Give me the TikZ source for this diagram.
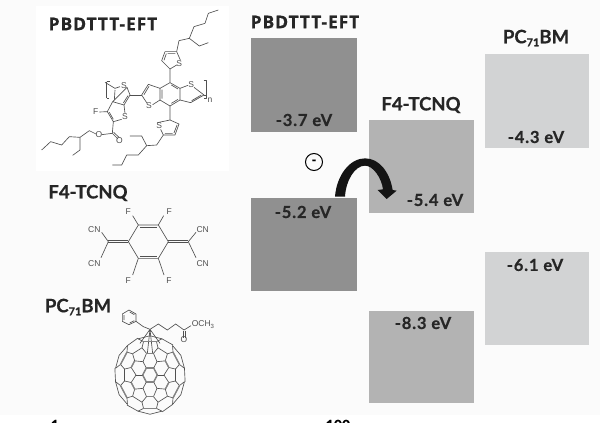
\documentclass[tikz,border=0pt]{standalone}
\usepackage{fontspec}
\setmainfont[FakeBold=0.6]{Lato}
\newfontfamily\widebold[LetterSpace=5,FakeBold=0.4]{Open Sans}
\newfontfamily\valfont[LetterSpace=5,FakeBold=0.6]{Lato}
\newfontfamily\chemfont{Liberation Sans}
\definecolor{bgc}{HTML}{FBFBFB}
\definecolor{darkbox}{HTML}{909090}
\definecolor{midbox}{HTML}{B3B3B3}
\definecolor{lightbox}{HTML}{D2D3D4}
\definecolor{inkc}{HTML}{262626}
\definecolor{bondc}{HTML}{505050}
\tikzset{
  titlelab/.style={font=\widebold\bfseries\fontsize{17.5}{17.5}\selectfont,text=inkc,inner sep=0pt},
  namelab/.style={font=\bfseries\fontsize{18.5}{18.5}\selectfont,text=inkc,inner sep=0pt},
  vallab/.style={font=\valfont\bfseries\fontsize{16.5}{16.5}\selectfont,text=inkc,inner sep=0pt},
  atomlab/.style={font=\chemfont\fontsize{8.5}{8.5}\selectfont,text=bondc,inner sep=0.6pt},
  bond/.style={draw=bondc,line width=0.65pt,line join=round},
  hbond/.style={draw=bondc!70,line width=1.4pt,line cap=round},
  zoomA/.style={x=0.33333pt,y=-0.33333pt},
}
\begin{document}
\begin{tikzpicture}[x=1pt,y=-1pt]
\useasboundingbox (0,0) rectangle (600,423);
\clip (0,0) rectangle (600,423);
\fill[bgc] (0,0) rectangle (600,423);
\fill[white] (36,6) rectangle (229,171);
\fill[white] (0,415) rectangle (600,423);

% bands
\fill[darkbox] (251,38) rectangle (357,132);
\fill[darkbox] (251,198) rectangle (357,291);
\fill[midbox] (369,120) rectangle (474,213);
\fill[midbox] (369,311) rectangle (474,403);
\fill[lightbox] (485,54) rectangle (589,148);
\fill[lightbox] (485,252) rectangle (589,345);

% titles
\node[titlelab] (t1) at (103,24) {PBDTTT-EFT};
\node[titlelab] (t2) at (305,22) {PBDTTT-EFT};
\node[namelab] (t3) at (88,193) {F4-TCNQ};
\node[namelab] (t4) at (421,105) {F4-TCNQ};
\node[namelab] (t5) at (78,307) {PC\raisebox{-3pt}{\fontsize{11}{11}\selectfont 71}BM};
\node[namelab] (t6) at (536,38) {PC\raisebox{-3pt}{\fontsize{11}{11}\selectfont 71}BM};

% values
\node[vallab] (v1) at (304,120) {-3.7 eV};
\node[vallab] (v2) at (303,212) {-5.2 eV};
\node[vallab] (v3) at (435,200) {-5.4 eV};
\node[vallab] (v4) at (536,137) {-4.3 eV};
\node[vallab] (v5) at (535,265) {-6.1 eV};
\node[vallab] (v6) at (423,323) {-8.3 eV};

% minus
\node[draw=black,circle,line width=1pt,minimum size=17pt,inner sep=0pt,font=\bfseries\fontsize{13}{13}\selectfont] (minus) at (314,162) {-};

% curved arrow
\begin{scope}[shift={(240,100)},zoomA]
\fill[black!92] (285,290)
  .. controls (290,225) and (330,175) .. (375,175)
  .. controls (420,175) and (450,220) .. (458,270)
  -- (470,272) -- (440,297) -- (413,270) -- (429,268)
  .. controls (425,235) and (400,197) .. (375,197)
  .. controls (345,197) and (318,240) .. (315,290) -- cycle;
\end{scope}

% PBDTTT-EFT molecule
\begin{scope}[zoomA]
\path[bond] (510,248) -- (540,265) -- (540,300) -- (510,318) -- (480,300) -- (480,265) -- cycle;
\path[bond] (514,255) -- (534,267) (534,298) -- (514,310) (486,296) -- (486,269);
\path[bond] (540,265) -- (564,256) (582,262) -- (612,285) -- (572,308) -- (540,300) (575,302) -- (604,285);
\path[bond] (480,265) -- (445,253) -- (425,285) -- (440,308) (458,314) -- (480,300) (447,259) -- (432,284);
\path[bond] (425,285) -- (390,285);
\path[bond] (345,265) -- (360,260) (381,262) -- (390,285) -- (372,315) -- (338,305) -- cycle;
\path[bond] (384,287) -- (370,309) (345,270) -- (343,300);
\path[bond] (372,315) -- (375,340) (365,358) -- (340,365) -- (322,335) -- (338,305);
\path[bond] (340,358) -- (328,337);
\path[bond] (322,335) -- (298,336);
\path[bond] (340,365) -- (337,400) -- (305,404) (337,400) -- (354,417) (341,397) -- (358,413);
\path[bond] (288,402) -- (268,392) -- (240,412) -- (208,410) -- (185,435) -- (152,425) -- (125,450);
\path[bond] (240,412) -- (240,450) -- (218,466);
\path[bond] (320,245) -- (320,295) (320,245) -- (330,245) (320,295) -- (328,295);
\path[bond] (345,265) -- (315,247);
\path[bond] (612,285) -- (622,285) (611,240) -- (620,240) -- (620,295) -- (611,295);
\path[bond] (510,248) -- (510,207) -- (485,182) -- (495,155) -- (530,155) -- (541,180) (530,195) -- (510,207);
\path[bond] (492,181) -- (499,161) (526,160) -- (503,160);
\path[bond] (530,155) -- (537,122) -- (568,115) -- (582,80) -- (615,70) -- (625,40) -- (655,30);
\path[bond] (568,115) -- (598,138) -- (625,128);
\path[bond] (510,318) -- (510,360) -- (537,372) -- (525,405) -- (490,405) -- (482,388) (472,368) -- (510,360);
\path[bond] (531,375) -- (522,399) (518,400) -- (495,400);
\path[bond] (490,405) -- (470,435) -- (440,437) -- (415,465) -- (380,465) -- (365,495) -- (337,495);
\path[bond] (440,437) -- (425,408) -- (390,408);
\node[atomlab] (s1) at (372,258) {S};
\node[atomlab] (s2) at (375,350) {S};
\node[atomlab] (s3) at (447,316) {S};
\node[atomlab] (s4) at (574,253) {S};
\node[atomlab] (s5) at (538,192) {S};
\node[atomlab] (s6) at (478,377) {S};
\node[atomlab] (f1) at (287,336) {F};
\node[atomlab] (o1) at (297,403) {O};
\node[atomlab] (o2) at (358,421) {O};
\node[atomlab] (nn) at (630,302) {n};
\end{scope}

% F4-TCNQ molecule
\begin{scope}[shift={(0,175)},zoomA]
\path[bond] (385,200) -- (415,150) -- (475,150) -- (505,200) -- (475,250) -- (415,250) -- cycle;
\path[bond] (420,156) -- (470,156) (420,244) -- (470,244);
\path[bond] (325,197) -- (385,197) (325,203) -- (385,203) (505,197) -- (565,197) (505,203) -- (565,203);
\path[bond] (325,200) -- (305,172) (325,200) -- (303,248) (565,200) -- (588,172) (565,200) -- (588,248);
\path[bond] (415,150) -- (398,122) (475,150) -- (491,122) (415,250) -- (398,300) (475,250) -- (492,300);
\node[atomlab] (f2) at (385,110) {F};
\node[atomlab] (f3) at (508,110) {F};
\node[atomlab] (f4) at (385,318) {F};
\node[atomlab] (f5) at (507,318) {F};
\node[atomlab] (c1) at (283,163) {CN};
\node[atomlab] (c2) at (283,265) {CN};
\node[atomlab] (c3) at (608,163) {CN};
\node[atomlab] (c4) at (608,265) {CN};
\end{scope}

% PC71BM molecule
\begin{scope}[shift={(110,300)},zoomA]
\path[bond] (57,30) -- (78,42) -- (78,64) -- (57,74) -- (37,64) -- (37,42) -- cycle;
\path[bond] (59,36) -- (73,44) (73,62) -- (59,69) (42,60) -- (42,45);
\path[bond] (78,64) -- (100,80) -- (120,88) -- (145,72) -- (172,90) -- (197,72) -- (222,90) -- (243,77);
\path[bond] (219,92) -- (219,113) (225,92) -- (225,113);
\node[atomlab,anchor=west] (och) at (243,74) {OCH\raisebox{-1.5pt}{\fontsize{6}{6}\selectfont 3}};
\node[atomlab] (o3) at (222,120) {O};
\path[bond] (120,88) -- (90,130) (120,88) -- (112,160) (120,88) -- (128,160) (120,88) -- (150,130);
\begin{scope}[shift={(120,225)},yscale=1.1]
  \foreach \k in {0,60,...,300} {
    \pgfmathsetmacro{\a}{\k}
    \pgfmathsetmacro{\b}{\k+60}
    \path[bond] (\a:22) -- (\b:22);
    \path[bond] (\a:42) -- (\a:22);
    \path[bond] (\a:42) -- (\k+20:60) -- (\k+40:60) -- (\b:42);
    \path[bond] (\k+20:60) -- (\k+12:78) -- (\k-12:78) -- (\k-20:60);
    \path[bond] (\k+12:78) -- (\k+18:93) -- (\k+42:93) -- (\k+48:78);
    \path[bond] (\k+18:93) -- (\k+10:105) (\k+42:93) -- (\k+50:105);
    \path[bond] (\k+10:105) -- (\k+30:107) -- (\k+50:105) -- (\k+70:107);
    \path[hbond] (\k+20:60) -- (\k+40:60);
    \path[hbond] (\k+18:93) -- (\k+42:93);
    \path[hbond] (\a:22) -- (\b:22);
  }
\end{scope}
\end{scope}

% fragments at the lower edge, cut by the frame as in the reference
\node[font=\bfseries\fontsize{14}{14}\selectfont,text=black,inner sep=0pt] (frag1) at (338,425) {100};
\node[font=\bfseries\fontsize{14}{14}\selectfont,text=black,inner sep=0pt] (frag2) at (55,425) {1};
\end{tikzpicture}
\end{document}
